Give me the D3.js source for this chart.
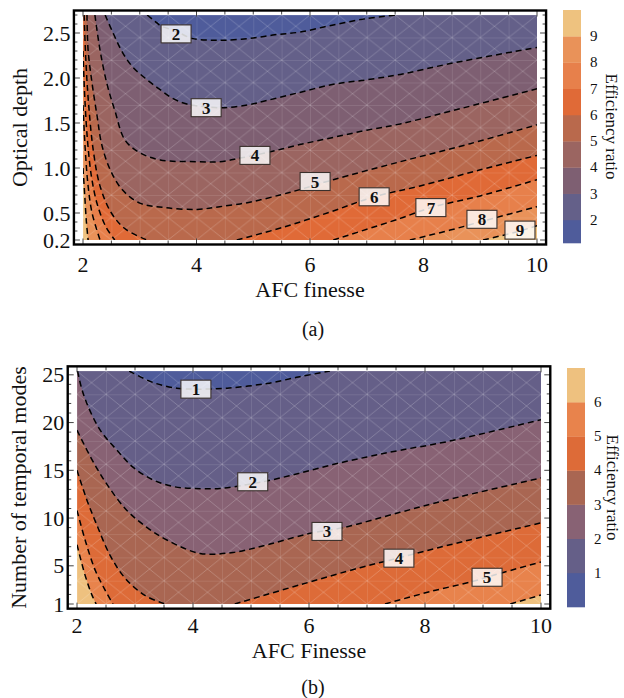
<!DOCTYPE html>
<html>
<head>
<meta charset="utf-8">
<script src="https://cdn.jsdelivr.net/npm/d3@7"></script>
<style>
body { margin: 0; background: #fff; }
text { font-family: "Liberation Serif", "Times New Roman", serif; fill: #111; }
</style>
</head>
<body>
<script>
//---- Panel (a): efficiency ratio vs AFC finesse and optical depth ----
//Contour pieces, [finesse, optical depth]
var a2 = [[3.13,2.70],[3.27,2.63],[3.37,2.58],[3.64,2.52],[3.92,2.44],[4.24,2.42],[4.50,2.42],[4.94,2.44],[5.38,2.48],[5.82,2.51],[6.41,2.59],[7.00,2.66],[7.53,2.70]];
var a3 = [[2.39,2.70],[2.53,2.50],[2.70,2.28],[2.88,2.12],[3.13,1.98],[3.36,1.87],[3.59,1.77],[3.83,1.71],[4.17,1.68],[4.50,1.67],[4.90,1.70],[5.24,1.75],[5.82,1.84],[6.41,1.93],[7.00,1.98],[7.59,2.04],[8.47,2.16],[10,2.34]];
var a4 = [[2.21,2.70],[2.30,2.31],[2.42,1.94],[2.56,1.64],[2.74,1.31],[3.00,1.17],[3.36,1.09],[4.01,1.07],[4.41,1.07],[4.77,1.11],[5.30,1.18],[5.82,1.26],[6.41,1.34],[7.00,1.42],[7.59,1.49],[8.47,1.63],[10,1.88]];
var a5 = [[2.07,2.70],[2.09,2.31],[2.16,1.94],[2.25,1.57],[2.33,1.26],[2.48,0.98],[2.69,0.76],[3.00,0.61],[3.44,0.56],[4.01,0.54],[4.41,0.57],[4.94,0.62],[5.47,0.70],[5.82,0.76],[6.41,0.87],[7.59,1.07],[8.82,1.27],[10,1.48]];
var a6L = [[2.02,2.70],[2.05,2.20],[2.10,1.70],[2.18,1.20],[2.30,0.80],[2.50,0.50],[2.75,0.32],[3.13,0.20]];
var a6R = [[4.71,0.20],[5.52,0.34],[6.35,0.51],[7.13,0.68],[7.94,0.80],[9.00,0.98],[10,1.14]];
var a7L = [[2.00,2.30],[2.03,1.80],[2.08,1.30],[2.15,0.90],[2.25,0.60],[2.40,0.35],[2.56,0.20]];
var a7R = [[6.41,0.20],[7.59,0.44],[8.13,0.56],[9.00,0.69],[10,0.87]];
var a8L = [[2.00,1.70],[2.04,1.20],[2.09,0.80],[2.16,0.50],[2.30,0.20]];
var a8R = [[7.76,0.20],[8.47,0.31],[9.05,0.41],[10,0.57]];
var a9L = [[2.00,1.00],[2.03,0.70],[2.06,0.40],[2.09,0.20]];
var a9R = [[9.05,0.20],[9.70,0.30],[10,0.36]];
var piecesA = [[2,a2],[3,a3],[4,a4],[5,a5],[6,a6L],[6,a6R],[7,a7L],[7,a7R],[8,a8L],[8,a8R],[9,a9L],[9,a9R]];
//Contour labels [value, finesse, depth]
var labelsA = [[2,3.64,2.49],[3,4.17,1.67],[4,5.03,1.14],[5,6.09,0.85],[6,7.13,0.68],[7,8.13,0.56],[8,9.03,0.43],[9,9.70,0.31]];
var yTicksA = [0.2,0.5,1.0,1.5,2.0,2.5];
var barTicksA = [2,3,4,5,6,7,8,9];
//Band colours, band 1-2 first
var colorsA = ["#4f5c9b","#646089","#7e5f72","#9b6561","#b9694c","#e06a37","#e7804b","#e99259","#eec27f"];

//---- Panel (b): efficiency ratio vs AFC finesse and number of temporal modes ----
var b1 = [[2.90,25.4],[3.31,24.2],[3.72,23.6],[4.05,23.5],[4.59,23.6],[5.28,24.1],[5.84,24.8],[6.36,25.4]];
var b2 = [[2.01,25.4],[2.07,23.8],[2.17,22.0],[2.40,19.2],[2.69,17.1],[2.97,15.3],[3.31,14.0],[3.66,13.3],[4.00,13.1],[4.47,13.1],[5.03,13.6],[5.29,13.9],[5.84,14.7],[6.41,15.6],[7.00,16.4],[7.57,17.1],[8.38,18.0],[10,20.3]];
var b3 = [[2.00,19.2],[2.26,16.1],[2.52,13.5],[2.86,10.8],[3.21,9.0],[3.55,7.7],[4.12,6.3],[4.69,6.4],[5.28,7.2],[6.02,8.4],[6.59,9.0],[7.57,10.6],[8.38,11.9],[10,14.2]];
var b4L = [[2.00,15.0],[2.17,11.9],[2.34,9.3],[2.57,6.1],[2.83,3.7],[3.17,1.9],[3.52,1.0]];
var b4R = [[4.72,1.0],[5.84,3.0],[6.88,4.8],[7.53,5.8],[8.43,7.2],[10,9.5]];
var b5L = [[2.00,10.8],[2.14,7.7],[2.31,4.6],[2.48,2.5],[2.62,1.0]];
var b5R = [[7.31,1.0],[8.09,2.3],[8.78,3.3],[9.07,3.8],[9.29,4.2],[10,5.4]];
var b6L = [[2.00,7.2],[2.14,4.0],[2.26,1.9],[2.33,1.0]];
var b6R = [[9.47,1.0],[10,1.94]];
var piecesB = [[1,b1],[2,b2],[3,b3],[4,b4L],[4,b4R],[5,b5L],[5,b5R],[6,b6L],[6,b6R]];
var labelsB = [[1,4.05,23.5],[2,5.03,13.8],[3,6.31,8.6],[4,7.55,5.8],[5,9.07,3.8]];
var yTicksB = [1,5,10,15,20,25];
var barTicksB = [1,2,3,4,5,6];
//Band colours, band 0-1 first
var colorsB = ["#4f5c9b","#655f88","#886274","#a96652","#dd6b38","#e8834c","#eec17f"];

var xTicks = [2,4,6,8,10];

//Define SVG
var svg = d3.select("body").append("svg")
    .attr("width", 624)
    .attr("height", 698);
var defs = svg.append("defs");

drawPanel({
  id: "a", xDom: [2,10], yDom: [0.2,2.7], px: [83,537], py: [15,240],
  pieces: piecesA, labels: labelsA, colors: colorsA, bandStart: 1,
  yTicks: yTicksA, yMinor: 25, yTickFmt: d3.format(".1f"),
  xTitle: "AFC finesse", yTitle: "Optical depth",
  xLabelY: 272, xTitleY: 297, yTitleX: 27,
  bar: {x: 563, w: 18, top: 10, bottom: 243, dom: [1.12,10], ticks: barTicksA, titleX: 606},
  caption: "(a)", captionY: 336
});

drawPanel({
  id: "b", xDom: [2,10], yDom: [1,25.4], px: [77,541], py: [371,604],
  pieces: piecesB, labels: labelsB, colors: colorsB, bandStart: 0,
  yTicks: yTicksB, yMinor: 25, yTickFmt: d3.format("d"),
  xTitle: "AFC Finesse", yTitle: "Number of temporal modes",
  xLabelY: 633, xTitleY: 658, yTitleX: 26,
  bar: {x: 567, w: 18, top: 368, bottom: 607, dom: [0,7], ticks: barTicksB, titleX: 607},
  caption: "(b)", captionY: 694
});

function drawPanel(o) {
  var x = d3.scaleLinear().domain(o.xDom).range(o.px);
  var y = d3.scaleLinear().domain(o.yDom).range([o.py[1], o.py[0]]);
  var x0 = o.px[0], x1 = o.px[1], y0 = o.py[0], y1 = o.py[1];
  var W = x1 - x0, H = y1 - y0, P = 2 * W + 2 * H;
  var g = svg.append("g");

  //Clip and mesh pattern
  defs.append("clipPath").attr("id", "clip" + o.id)
    .append("rect").attr("x", x0).attr("y", y0).attr("width", W).attr("height", H);
  var pw = W / 16, ph = H / 10;
  var pat = defs.append("pattern").attr("id", "mesh" + o.id)
    .attr("patternUnits", "userSpaceOnUse")
    .attr("x", x0).attr("y", y0).attr("width", pw).attr("height", ph);
  pat.append("path")
    .attr("d", "M0,0V" + ph + "M0,0H" + pw + "M0,0L" + pw + "," + ph + "M" + pw + ",0L0," + ph)
    .attr("stroke", "#fff").attr("stroke-opacity", 0.28).attr("stroke-width", 0.7).attr("fill", "none");

  var plot = g.append("g").attr("clip-path", "url(#clip" + o.id + ")");
  plot.append("rect").attr("x", x0).attr("y", y0).attr("width", W).attr("height", H)
    .attr("fill", o.colors[0]);

  var line = d3.line()
    .x(function(d) { return x(d[0]); })
    .y(function(d) { return y(d[1]); })
    .curve(d3.curveCatmullRom.alpha(0.5));

  //Position of a boundary point along the frame, clockwise from top-left
  function pos(p) {
    if (Math.abs(p[1] - y0) < 0.5) return p[0] - x0;
    if (Math.abs(p[0] - x1) < 0.5) return W + (p[1] - y0);
    if (Math.abs(p[1] - y1) < 0.5) return W + H + (x1 - p[0]);
    return 2 * W + H + (y1 - p[1]);
  }
  var corners = [[x1, y0, W], [x1, y1, W + H], [x0, y1, 2 * W + H], [x0, y0, 0]];

  //Fill region above each level, lowest level first
  o.pieces.forEach(function(pc) {
    var pts = pc[1];
    var s = [x(pts[0][0]), y(pts[0][1])];
    var e = [x(pts[pts.length - 1][0]), y(pts[pts.length - 1][1])];
    var pe = pos(e), span = (pos(s) - pe + P) % P;
    var cs = corners.map(function(c) { return {c: c, d: (c[2] - pe + P) % P}; })
      .filter(function(c) { return c.d > 0 && c.d < span; })
      .sort(function(a, b) { return a.d - b.d; });
    var path = line(pts) + cs.map(function(c) { return "L" + c.c[0] + "," + c.c[1]; }).join("") + "Z";
    plot.append("path").attr("d", path).attr("fill", o.colors[pc[0] - o.bandStart]);
  });

  plot.append("rect").attr("x", x0).attr("y", y0).attr("width", W).attr("height", H)
    .attr("fill", "url(#mesh" + o.id + ")");

  //Dashed contour lines
  plot.selectAll("path.cl").data(o.pieces).enter().append("path")
    .attr("class", "cl")
    .attr("d", function(d) { return line(d[1]); })
    .attr("fill", "none").attr("stroke", "#000")
    .attr("stroke-width", 1.5).attr("stroke-dasharray", "6,4");

  //Contour labels
  var lab = g.selectAll("g.lab").data(o.labels).enter().append("g")
    .attr("class", "lab")
    .attr("transform", function(d) { return "translate(" + x(d[1]) + "," + y(d[2]) + ")"; });
  lab.append("rect").attr("x", -15).attr("y", -9).attr("width", 30).attr("height", 18)
    .attr("fill", "#fff").attr("fill-opacity", 0.82)
    .attr("stroke", "#3a302c").attr("stroke-width", 1.1);
  lab.append("text").attr("text-anchor", "middle").attr("y", 6)
    .style("font-size", "17px").style("font-weight", "bold")
    .text(function(d) { return d[0]; });

  //Frame with inward ticks
  var padX = 0.02 * W, padY = 0.02 * H;
  var fx0 = x0 - padX, fx1 = x1 + padX, fy0 = y0 - padY, fy1 = y1 + padY;
  var tk = g.append("g").attr("stroke", "#444").attr("stroke-width", 1);
  x.ticks(16).forEach(function(t) {
    var L = xTicks.indexOf(t) >= 0 ? 6 : 4;
    tk.append("line").attr("x1", x(t)).attr("x2", x(t)).attr("y1", fy1).attr("y2", fy1 - L);
    tk.append("line").attr("x1", x(t)).attr("x2", x(t)).attr("y1", fy0).attr("y2", fy0 + L);
  });
  y.ticks(o.yMinor).forEach(function(t) {
    var major = o.yTicks.some(function(v) { return Math.abs(v - t) < 1e-6; });
    var L = major ? 6 : 3.5;
    tk.append("line").attr("y1", y(t)).attr("y2", y(t)).attr("x1", fx0).attr("x2", fx0 + L);
    tk.append("line").attr("y1", y(t)).attr("y2", y(t)).attr("x1", fx1).attr("x2", fx1 - L);
  });
  g.append("rect").attr("x", fx0).attr("y", fy0).attr("width", fx1 - fx0).attr("height", fy1 - fy0)
    .attr("fill", "none").attr("stroke", "#000").attr("stroke-width", 2.4);

  //Tick labels
  g.selectAll("text.xt").data(xTicks).enter().append("text")
    .attr("x", function(d) { return x(d); }).attr("y", o.xLabelY)
    .attr("text-anchor", "middle").style("font-size", "22px")
    .text(function(d) { return d; });
  g.selectAll("text.yt").data(o.yTicks).enter().append("text")
    .attr("x", fx0 - 3.5).attr("y", function(d) { return y(d) + 7.5; })
    .attr("text-anchor", "end").style("font-size", "22px")
    .text(o.yTickFmt);

  //Axis titles
  g.append("text").attr("x", (x0 + x1) / 2).attr("y", o.xTitleY)
    .attr("text-anchor", "middle").style("font-size", "22px").text(o.xTitle);
  g.append("text").attr("transform", "translate(" + o.yTitleX + "," + (fy0 + fy1) / 2 + ") rotate(-90)")
    .attr("text-anchor", "middle").style("font-size", "22px").text(o.yTitle);

  //Colour bar
  var b = o.bar;
  var by = d3.scaleLinear().domain(b.dom).range([b.bottom, b.top]);
  var bands = d3.range(o.colors.length).map(function(i) {
    return [Math.max(o.bandStart + i, b.dom[0]), Math.min(o.bandStart + i + 1, b.dom[1]), o.colors[i]];
  });
  g.selectAll("rect.band").data(bands).enter().append("rect")
    .attr("x", b.x).attr("width", b.w)
    .attr("y", function(d) { return by(d[1]); })
    .attr("height", function(d) { return by(d[0]) - by(d[1]) + 0.3; })
    .attr("fill", function(d) { return d[2]; });
  g.selectAll("text.bt").data(b.ticks).enter().append("text")
    .attr("x", b.x + b.w + 9).attr("y", function(d) { return by(d) + 5; })
    .style("font-size", "15px").text(function(d) { return d; });
  g.append("text").attr("transform", "translate(" + b.titleX + "," + (b.top + b.bottom) / 2 + ") rotate(90)")
    .attr("text-anchor", "middle").style("font-size", "17px").text("Efficiency ratio");

  //Caption
  g.append("text").attr("x", 313).attr("y", o.captionY)
    .attr("text-anchor", "middle").style("font-size", "20px").text(o.caption);
}
</script>
</body>
</html>
